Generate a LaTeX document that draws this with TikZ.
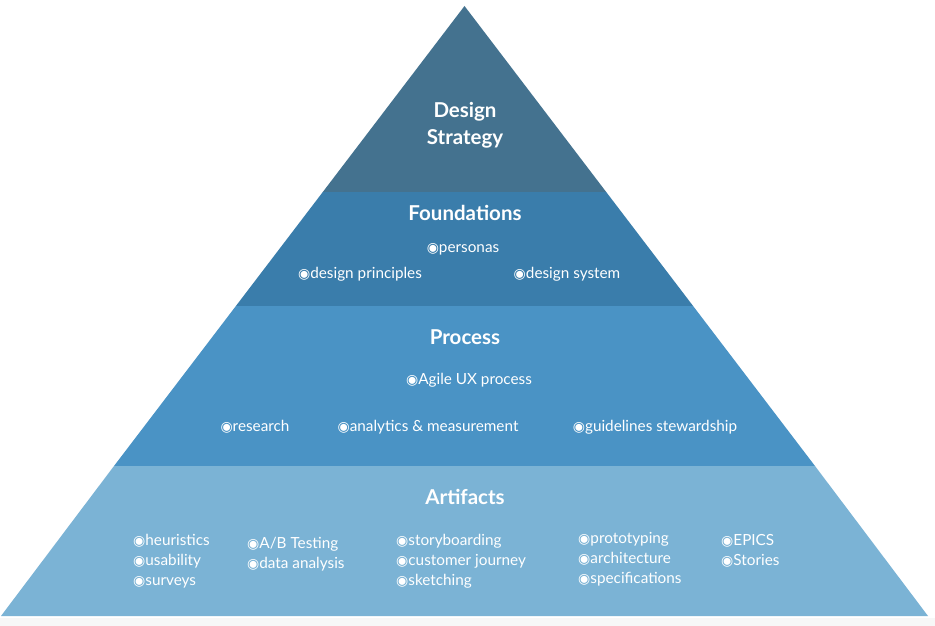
\documentclass[tikz,border=0pt]{standalone}
\usepackage{fontspec}
\setmainfont{Lato}
\newfontfamily\symfont{DejaVu Sans}
\newcommand\bul{\raisebox{0.2pt}{\symfont\fontsize{14}{14}\selectfont ◉}}
\definecolor{bandA}{HTML}{44728F}
\definecolor{bandB}{HTML}{3A7DAB}
\definecolor{bandC}{HTML}{4A93C5}
\definecolor{bandD}{HTML}{7BB3D5}
\tikzset{
  head/.style={text=white,font=\fontsize{20.5}{27}\selectfont\bfseries,align=center},
  item/.style={text=white,font=\fontsize{15.3}{18}\selectfont,inner sep=0pt,text height=11pt,text depth=6.5pt,yshift=-2.5pt},
  itemw/.style={item,anchor=west},
}
\begin{document}
\begin{tikzpicture}[x=1pt,y=-1pt]
\useasboundingbox (0,0) rectangle (935,626);
\fill[white] (0,0) rectangle (935,626);
\fill[black!3] (0,618) rectangle (935,626);
% bands (apex 464.5,6 ; base y=616, x 1..928)
\fill[bandA] (464.5,6) -- (606.2,192) -- (322.8,192) -- cycle;
\fill[bandB] (322.8,192) -- (606.2,192) -- (693.1,306) -- (235.9,306) -- cycle;
\fill[bandC] (235.9,306) -- (693.1,306) -- (815,466) -- (114,466) -- cycle;
\fill[bandD] (114,466) -- (815,466) -- (928,616) -- (1,616) -- cycle;
% Design strategy
\node[head] (ds) at (465,125) {Design\\Strategy};
% Foundations
\node[head] (fo) at (465,213) {Foundations};
\node[item] (pe) at (463,248) {\bul personas};
\node[item] (dp) at (360,274) {\bul design principles};
\node[item] (dsy) at (567,274) {\bul design system};
% Process
\node[head] (pr) at (465,337) {Process};
\node[item] (ag) at (469,380) {\bul Agile UX process};
\node[item] (re) at (255,427) {\bul research};
\node[item] (an) at (428,427) {\bul analytics \& measurement};
\node[item] (gu) at (655,427) {\bul guidelines stewardship};
% Artifacts
\node[head] (ar) at (465,497) {Artifacts};
\node[itemw] (h1) at (133,541) {\bul heuristics};
\node[itemw] (h2) at (133,561) {\bul usability};
\node[itemw] (h3) at (133,581) {\bul surveys};
\node[itemw] (b1) at (247,544) {\bul A/B Testing};
\node[itemw] (b2) at (247,564) {\bul data analysis};
\node[itemw] (s1) at (396,541) {\bul storyboarding};
\node[itemw] (s2) at (396,561) {\bul customer journey};
\node[itemw] (s3) at (396,581) {\bul sketching};
\node[itemw] (p1) at (578,539) {\bul prototyping};
\node[itemw] (p2) at (578,559) {\bul architecture};
\node[itemw] (p3) at (578,579) {\bul specifications};
\node[itemw] (e1) at (721,541) {\bul EPICS};
\node[itemw] (e2) at (721,561) {\bul Stories};
\end{tikzpicture}
\end{document}
